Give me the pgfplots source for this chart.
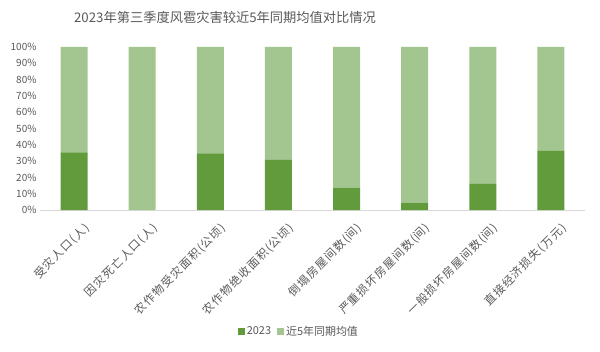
\documentclass[border=0pt]{standalone}
\usepackage{pgfplots}
\pgfplotsset{compat=1.18}
\usepackage{fontspec}
\setmainfont{Noto Sans CJK SC}
\newfontfamily\lblfont[LetterSpace=10]{Noto Sans CJK SC}
\definecolor{dk}{HTML}{619B3C}
\definecolor{lt}{HTML}{A3C58F}
\definecolor{txt}{HTML}{595959}
\definecolor{axl}{HTML}{D9D9D9}
\begin{document}
\begin{tikzpicture}[x=1bp,y=1bp]
\useasboundingbox (0,0) rectangle (600,351);
\begin{axis}[
  at={(40bp,141bp)}, anchor=south west, scale only axis,
  width=545bp, height=163bp,
  ybar stacked, bar width=27bp,
  xmin=-0.5, xmax=7.5, ymin=0, ymax=100,
  xtick=data,
  xticklabels={受灾人口(人),因灾死亡人口(人),农作物受灾面积(公顷),农作物绝收面积(公顷),倒塌房屋间数(间),严重损坏房屋间数(间),一般损坏房屋间数(间),直接经济损失(万元)},
  x tick label style={xshift=9bp, yshift=-10bp, rotate=45, anchor=north east, font=\lblfont\fontsize{11.5}{13}\selectfont, text=txt, inner sep=1pt},
  ytick={0,10,...,100},
  yticklabel={\pgfmathprintnumber{\tick}\%},
  /pgf/number format/assume math mode=true,
  y tick label style={font=\fontsize{10}{12}\selectfont, text=txt},
  axis x line*=bottom, axis y line*=left,
  x axis line style={draw=axl, line width=0.8bp},
  y axis line style={draw=none},
  major tick length=0pt,
  legend style={at={(0.475,-0.745)}, anchor=center, legend columns=2, draw=none,
    font=\fontsize{11}{13}\selectfont, text=txt,
    /tikz/every even column/.append style={column sep=4bp}},
  legend image code/.code={\fill[#1] (0bp,-3.5bp) rectangle (7bp,3.5bp);},
]
\addplot[fill=dk, draw=none] coordinates {(0,35.4) (1,0) (2,34.8) (3,30.7) (4,13.7) (5,4.5) (6,16.0) (7,36.2)};
\addplot[fill=lt, draw=none] coordinates {(0,64.6) (1,100) (2,65.2) (3,69.3) (4,86.3) (5,95.5) (6,84.0) (7,63.8)};
\legend{2023,近5年同期均值}
\end{axis}
\node[font=\fontsize{13.3}{15}\selectfont, text=txt] at (225,334) {2023年第三季度风雹灾害较近5年同期均值对比情况};
\end{tikzpicture}
\end{document}
